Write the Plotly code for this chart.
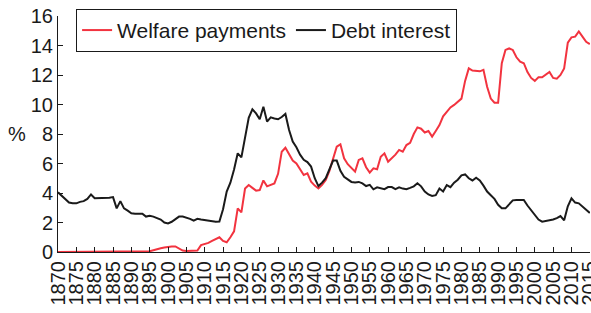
import plotly.graph_objects as go

years = list(range(1870, 2016))

debt_interest = [
    4.05, 3.8, 3.55, 3.35, 3.3, 3.3, 3.4, 3.45, 3.6, 3.9,          # 1870-1879
    3.65, 3.65, 3.65, 3.65, 3.68, 3.72, 2.96, 3.45, 2.96, 2.8,     # 1880-1889
    2.62, 2.6, 2.6, 2.6, 2.4, 2.45, 2.4, 2.3, 2.2, 2.0,            # 1890-1899
    1.94, 2.05, 2.25, 2.4, 2.4, 2.35, 2.25, 2.12, 2.25, 2.2,       # 1900-1909
    2.15, 2.1, 2.06, 2.05, 2.06, 2.9, 4.1, 4.7, 5.6, 6.69,         # 1910-1919
    6.42, 7.8, 9.1, 9.67, 9.4, 9.0, 9.85, 8.84, 9.13, 9.05,        # 1920-1929
    9.0, 9.15, 9.36, 8.27, 7.48, 7.1, 6.6, 6.25, 6.1, 5.79,        # 1930-1939
    5.0, 4.47, 4.7, 5.0, 5.6, 6.2, 6.2, 5.5, 5.1, 4.95,            # 1940-1949
    4.75, 4.72, 4.75, 4.65, 4.47, 4.55, 4.25, 4.38, 4.3, 4.26,     # 1950-1959
    4.4, 4.4, 4.26, 4.38, 4.3, 4.26, 4.35, 4.45, 4.66, 4.45,       # 1960-1969
    4.1, 3.9, 3.8, 3.85, 4.3, 4.1, 4.54, 4.4, 4.7, 4.9,            # 1970-1979
    5.2, 5.26, 5.0, 4.85, 5.04, 4.85, 4.5, 4.1, 3.85, 3.6,         # 1980-1989
    3.2, 2.96, 2.96, 3.2, 3.5, 3.53, 3.53, 3.53, 3.15, 2.85,       # 1990-1999
    2.55, 2.2, 2.06, 2.1, 2.15, 2.2, 2.3, 2.44, 2.15, 3.1,         # 2000-2009
    3.64, 3.35, 3.3, 3.1, 2.9, 2.65,                               # 2010-2015
]

welfare_payments = [
    0, 0, 0, 0, 0, 0, 0, 0, 0, 0,                                  # 1870-1879
    0, 0, 0, 0, 0, 0, 0, 0, 0, 0,                                  # 1880-1889
    0, 0, 0, 0, 0, 0.05, 0.12, 0.2, 0.25, 0.3,                     # 1890-1899
    0.36, 0.38, 0.38, 0.25, 0.1, 0.07, 0.07, 0.07, 0.1, 0.47,      # 1900-1909
    0.52, 0.62, 0.75, 0.88, 1.0, 0.75, 0.66, 1.0, 1.4, 2.96,       # 1910-1919
    2.69, 4.3, 4.54, 4.35, 4.16, 4.2, 4.85, 4.45, 4.55, 4.65,      # 1920-1929
    5.3, 6.8, 7.07, 6.6, 6.2, 6.0, 5.6, 5.22, 5.33, 4.77,          # 1930-1939
    4.5, 4.31, 4.55, 4.88, 5.5, 6.3, 7.14, 7.3, 6.35, 5.95,        # 1940-1949
    5.7, 5.45, 6.24, 6.35, 5.75, 5.38, 5.67, 5.61, 6.46, 6.69,     # 1950-1959
    6.12, 6.35, 6.6, 6.92, 6.8, 7.25, 7.4, 8.0, 8.45, 8.36,        # 1960-1969
    8.1, 8.2, 7.82, 8.2, 8.6, 9.2, 9.5, 9.8, 9.97, 10.2,           # 1970-1979
    10.4, 11.6, 12.45, 12.3, 12.3, 12.25, 12.35, 11.2, 10.4, 10.12, # 1980-1989
    10.12, 12.8, 13.7, 13.8, 13.7, 13.2, 12.9, 12.8, 12.2, 11.8,   # 1990-1999
    11.6, 11.84, 11.84, 12.0, 12.2, 11.8, 11.75, 12.0, 12.45, 14.2, # 2000-2009
    14.55, 14.6, 14.95, 14.6, 14.25, 14.1,                         # 2010-2015
]

x_ticks = list(range(1870, 2016, 5))
y_ticks = list(range(0, 17, 2))

FONT = "Liberation Sans, Arial, Helvetica, sans-serif"
INK = "#1a1a1a"

fig = go.Figure()
fig.add_trace(go.Scatter(x=years, y=welfare_payments, mode="lines",
                         name="Welfare payments",
                         line=dict(color="#f2333f", width=2)))
fig.add_trace(go.Scatter(x=years, y=debt_interest, mode="lines",
                         name="Debt interest",
                         line=dict(color=INK, width=2)))

fig.update_layout(
    width=591, height=313,
    margin=dict(l=58, r=1, t=16, b=61, autoexpand=False),
    paper_bgcolor="white", plot_bgcolor="white",
    font=dict(family=FONT, size=20, color=INK),
    showlegend=True,
    legend=dict(orientation="h", x=0.034, y=1.03, xanchor="left", yanchor="top",
                bordercolor=INK, borderwidth=1, bgcolor="white",
                font=dict(size=21), itemwidth=30, tracegroupgap=0),
    annotations=[dict(text="%", x=(17 - 58) / 532, y=8, xref="paper", yref="y",
                      showarrow=False, font=dict(size=20), xanchor="center")],
)

fig.update_xaxes(range=[1870, 2015.05], tickvals=x_ticks,
                 ticktext=[str(t) for t in x_ticks], tickangle=-90,
                 ticks="inside", ticklen=5, tickcolor=INK, automargin=False,
                 ticklabeloverflow="allow",
                 showline=True, linecolor=INK, linewidth=1,
                 showgrid=False, zeroline=False, tickfont=dict(size=20))
fig.update_yaxes(range=[0, 16], tickvals=y_ticks, ticks="inside", ticklen=5,
                 tickcolor=INK, showline=True, linecolor=INK, automargin=False,
                 ticklabeloverflow="allow",
                 linewidth=1, showgrid=False, zeroline=False,
                 tickfont=dict(size=20))

fig.write_html(
    "out.html",
    config={"displayModeBar": False},
    post_script="document.body.style.margin='0';document.body.style.overflow='hidden';",
)
